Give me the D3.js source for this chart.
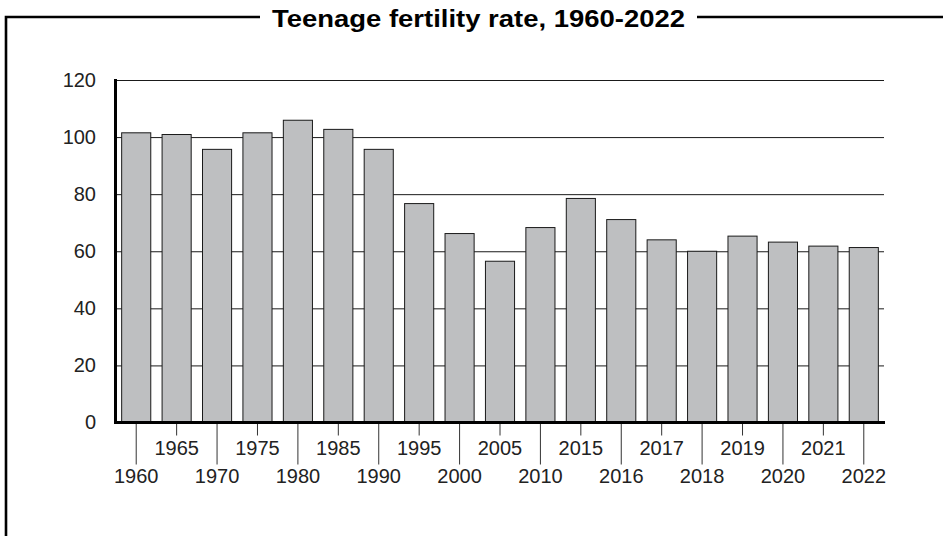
<!DOCTYPE html>
<meta charset="utf-8">
<style>
  body { margin: 0; background: #fff; }
  svg { display: block; }
</style>
<body>
<div id="chart"></div>
<script src="https://d3js.org/d3.v7.min.js"></script>
<script>
// data
var years = ["1960","1965","1970","1975","1980","1985","1990","1995","2000","2005",
             "2010","2015","2016","2017","2018","2019","2020","2021","2022"];
var rates = [101.5, 100.9, 95.7, 101.5, 105.9, 102.7, 95.7, 76.7, 66.2, 56.5,
             68.3, 78.5, 71.1, 64.0, 60.0, 65.3, 63.2, 61.8, 61.3];
var yTicks = [0, 20, 40, 60, 80, 100, 120];
var title = "Teenage fertility rate, 1960-2022";

var W = 943, H = 536;
var margin = {top: 80, right: 59, bottom: 114, left: 116};
var width = W - margin.left - margin.right,
    height = 422.5 - margin.top;

var svg = d3.select("#chart").append("svg")
    .attr("width", W)
    .attr("height", H);

// frame round the chart, broken by the title
svg.append("path")
    .attr("d", "M6," + (H + 5) + "V17H260M697,17H" + (W + 5))
    .attr("fill", "none")
    .attr("stroke", "#000")
    .attr("stroke-width", 2.6);

svg.append("text")
    .attr("x", 272)
    .attr("y", 27)
    .attr("textLength", 413)
    .attr("lengthAdjust", "spacingAndGlyphs")
    .style("font-family", "'Liberation Sans', Arial, sans-serif")
    .style("font-weight", "bold")
    .style("font-size", "23.5px")
    .text(title);

var g = svg.append("g")
    .attr("transform", "translate(" + margin.left + "," + margin.top + ")");

// scales
var x = d3.scaleBand()
    .domain(years)
    .range([0, width])
    .paddingInner(0.28)
    .paddingOuter(0.14);

var y = d3.scaleLinear()
    .domain([0, 120])
    .range([height, 0]);

// y axis with grid lines behind the bars
var yAxis = g.append("g")
    .call(d3.axisLeft(y).tickValues(yTicks).tickSize(-width).tickPadding(20));
yAxis.select(".domain").remove();
yAxis.selectAll("line")
    .attr("stroke", "#1a1a1a")
    .attr("stroke-width", 1);
yAxis.selectAll("text")
    .style("font-family", "'Liberation Sans', Arial, sans-serif")
    .style("font-size", "20px")
    .attr("fill", "#222");

// bars
g.selectAll(".bar")
    .data(rates)
  .enter().append("rect")
    .attr("class", "bar")
    .attr("x", function(d, i) { return x(years[i]); })
    .attr("y", function(d) { return y(d); })
    .attr("width", x.bandwidth())
    .attr("height", function(d) { return height - y(d); })
    .attr("fill", "#bebfc1")
    .attr("stroke", "#1a1a1a")
    .attr("stroke-width", 1);

// x axis, labels staggered on two rows
var xAxis = g.append("g")
    .attr("transform", "translate(0," + height + ")")
    .call(d3.axisBottom(x).tickSize(42).tickPadding(0));
xAxis.select(".domain").remove();
xAxis.selectAll(".tick line")
    .attr("stroke", "#333")
    .attr("y2", function(d, i) { return i % 2 ? 13 : 42; });
xAxis.selectAll(".tick text")
    .attr("dy", null)
    .attr("y", function(d, i) { return i % 2 ? 32.5 : 60.5; })
    .style("font-family", "'Liberation Sans', Arial, sans-serif")
    .style("font-size", "20px")
    .attr("fill", "#222");

// heavy axis lines
g.append("line")
    .attr("x1", -2).attr("x2", width + 1)
    .attr("y1", height).attr("y2", height)
    .attr("stroke", "#000")
    .attr("stroke-width", 3);
g.append("line")
    .attr("x1", -0.5).attr("x2", -0.5)
    .attr("y1", -1).attr("y2", height + 1.5)
    .attr("stroke", "#000")
    .attr("stroke-width", 3);
</script>
</body>
